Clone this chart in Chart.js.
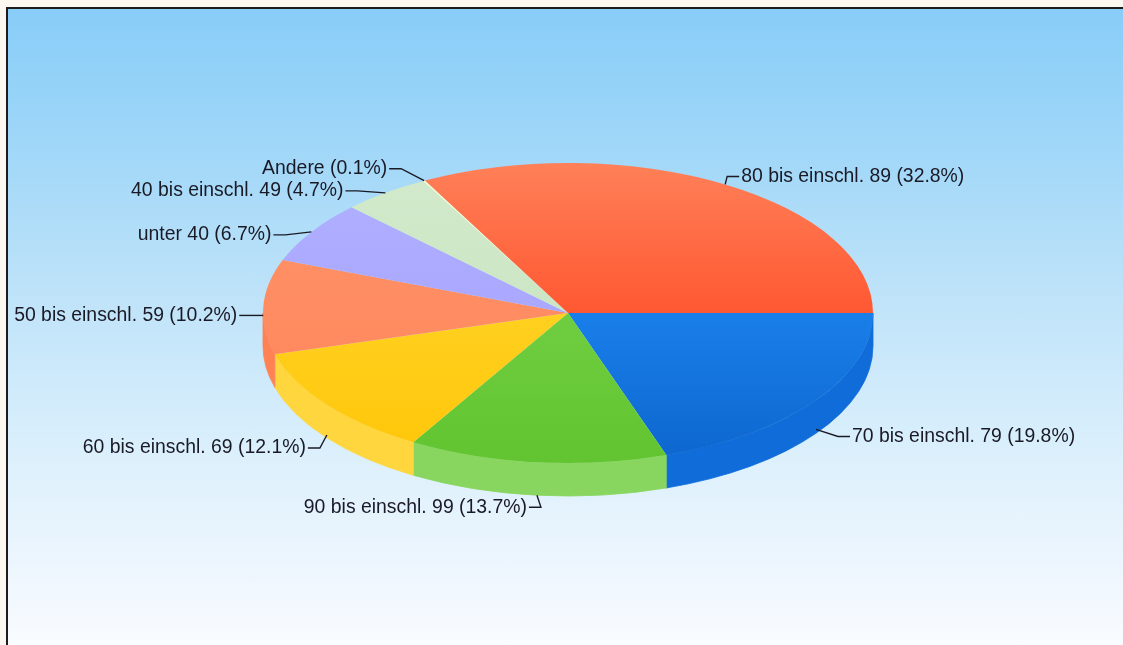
<!DOCTYPE html>
<html>
<head>
<meta charset="utf-8">
<script src="https://cdn.jsdelivr.net/npm/chart.js@4.4.1/dist/chart.umd.min.js"></script>
<style>
  html, body { margin: 0; padding: 0; background: #fcf8f1; }
  #wrap { position: relative; width: 1123px; height: 645px; overflow: hidden; }
  #frame {
    position: absolute; left: 6px; top: 7px; right: -4px; bottom: -4px;
    border-left: 2px solid #1c1c1c; border-top: 2px solid #1c1c1c;
    background: linear-gradient(to bottom, #88cdf8 0%, #9ed6f8 20%, #bfe3f9 45%, #dcf0fc 70%, #eef6fe 88%, #fafcff 100%);
  }
  canvas { position: absolute; left: 0; top: 0; }
</style>
</head>
<body>
<div id="wrap">
  <div id="frame"></div>
  <canvas id="chart" width="1123" height="645"></canvas>
</div>
<script>
const labels = ["70 bis einschl. 79", "90 bis einschl. 99", "60 bis einschl. 69", "50 bis einschl. 59",
                "unter 40", "40 bis einschl. 49", "Andere", "80 bis einschl. 89"];
const shares = [19.8, 13.7, 12.1, 10.2, 6.7, 4.7, 0.1, 32.8];

// top face colours: top / middle / bottom of the pie
const topColors = [
  ["#2a8cf0", "#1a7fea", "#0d66ce"],
  ["#74d244", "#6fce40", "#62c430"],
  ["#ffd42a", "#ffd020", "#ffc608"],
  ["#ff9368", "#ff8c62", "#ff8458"],
  ["#b2b0ff", "#aaa8ff", "#a2a0fa"],
  ["#d2eacb", "#cce6c5", "#c4e0bc"],
  ["#ffffd0", "#ffffc8", "#fffac0"],
  ["#ff8058", "#ff5832", "#ff4a22"]
];
const sideColors = ["#0f6cd8", "#88d660", "#ffd63e", "#ff8254", "#9a98f0", "#bcd8b4", "#f6f2b8", "#f04c28"];

// where the label text sits, relative to its anchor on the pie
const labelOffsets = [[34, 7], [-8, 12], [-19, 13], [-24, 0], [-38, 3], [-40, -2], [-35, -12], [14, -8]];

const tilt = 150 / 305;
const depth = 33;

const pie3d = {
  id: "pie3d",
  beforeDatasetsDraw(chart) {
    const ctx = chart.ctx;
    const arcs = chart.getDatasetMeta(0).data;
    if (!arcs.length) return;
    const {x, y, outerRadius} = arcs[0];
    const ry = outerRadius * tilt;
    arcs.forEach((arc, i) => {
      const a1 = Math.max(arc.startAngle, 0);
      const a2 = Math.min(arc.endAngle, Math.PI);
      if (a2 <= a1) return;
      ctx.beginPath();
      ctx.ellipse(x, y, outerRadius, ry, 0, a1, a2, false);
      ctx.ellipse(x, y + depth, outerRadius, ry, 0, a2, a1, true);
      ctx.closePath();
      ctx.fillStyle = sideColors[i];
      ctx.fill();
      ctx.strokeStyle = sideColors[i];
      ctx.lineWidth = 0.8;
      ctx.stroke();
    });
    ctx.save();
    ctx.translate(x, y);
    ctx.scale(1, tilt);
    ctx.translate(-x, -y);
  },
  afterDatasetsDraw(chart) {
    const ctx = chart.ctx;
    ctx.restore();
    const arcs = chart.getDatasetMeta(0).data;
    if (!arcs.length) return;
    const {x, y, outerRadius} = arcs[0];
    const ry = outerRadius * tilt;
    ctx.save();
    ctx.font = '19.4px "Liberation Sans", Arial, sans-serif';
    ctx.fillStyle = "#1a1a26";
    ctx.strokeStyle = "#1a1a26";
    ctx.lineWidth = 1.4;
    ctx.textBaseline = "middle";
    arcs.forEach((arc, i) => {
      const mid = (arc.startAngle + arc.endAngle) / 2;
      const c = Math.cos(mid), s = Math.sin(mid);
      const lift = Math.min(1, Math.max(0, s + 0.3));
      const ax = x + outerRadius * c;
      const ay = y + ry * s + depth * lift;
      const dir = c >= 0 ? 1 : -1;
      const tx = ax + labelOffsets[i][0];
      const ty = ay + labelOffsets[i][1];
      ctx.beginPath();
      ctx.moveTo(ax, ay);
      ctx.lineTo(tx - dir * 12, ty);
      ctx.lineTo(tx, ty);
      ctx.stroke();
      ctx.textAlign = dir > 0 ? "left" : "right";
      ctx.fillText(labels[i] + " (" + shares[i].toFixed(1) + "%)", tx + dir * 2, ty);
    });
    ctx.restore();
  }
};

function topFill(c) {
  const i = c.dataIndex;
  const area = c.chart.chartArea;
  if (i === undefined || !area) return topColors[0][1];
  const cy = (area.top + area.bottom) / 2;
  const g = c.chart.ctx.createLinearGradient(0, cy - 305, 0, cy + 305);
  g.addColorStop(0, topColors[i][0]);
  g.addColorStop(0.5, topColors[i][1]);
  g.addColorStop(1, topColors[i][2]);
  return g;
}

new Chart(document.getElementById("chart"), {
  type: "pie",
  data: {
    labels: labels,
    datasets: [{
      data: shares,
      backgroundColor: topFill,
      borderWidth: 0
    }]
  },
  options: {
    responsive: false,
    animation: false,
    rotation: 90,
    radius: 305,
    layout: { padding: { left: 26, right: 13, top: 0, bottom: 19 } },
    plugins: { legend: { display: false }, tooltip: { enabled: false } }
  },
  plugins: [pie3d]
});
</script>
</body>
</html>
